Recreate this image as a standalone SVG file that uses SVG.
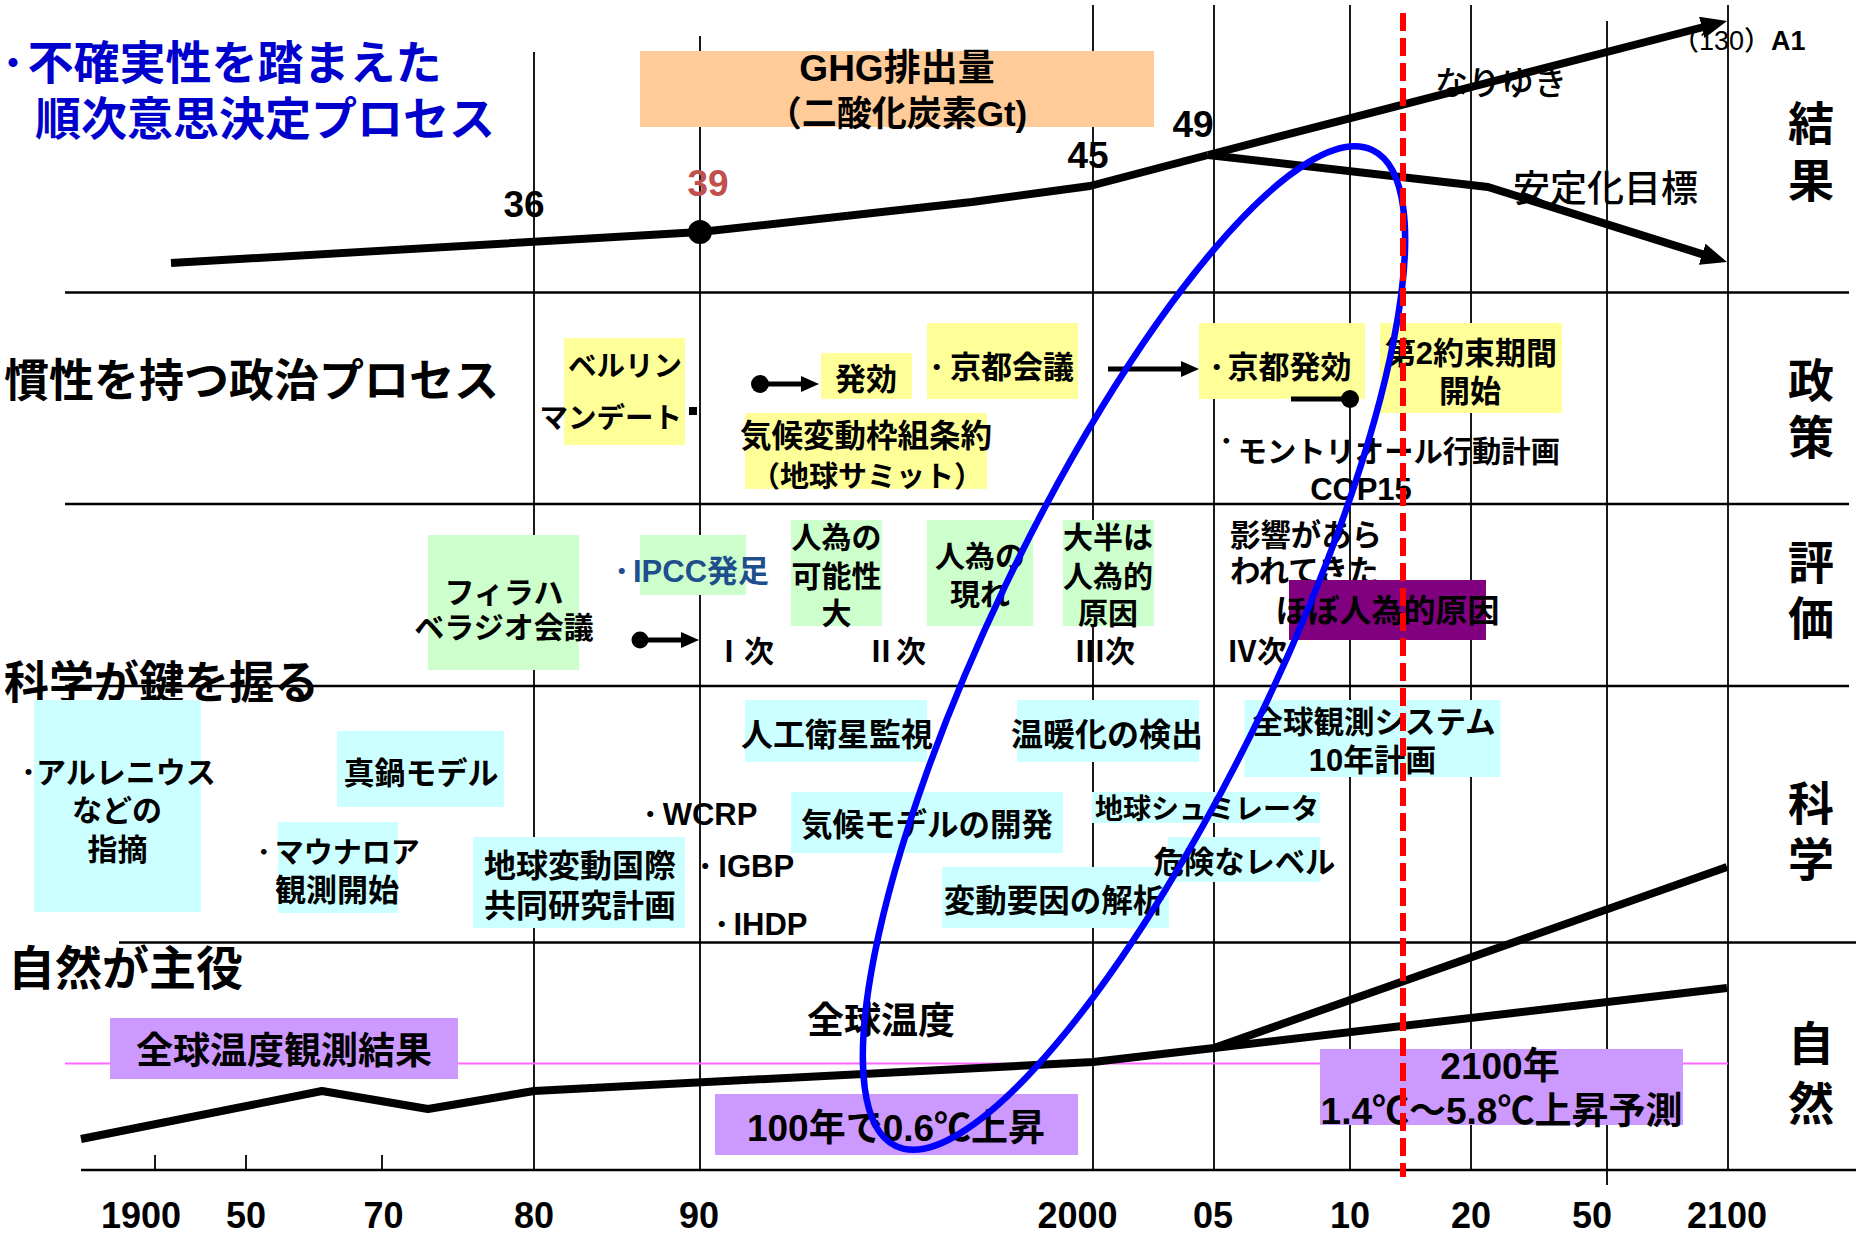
<svg xmlns="http://www.w3.org/2000/svg" width="1864" height="1240" viewBox="0 0 1864 1240">
<style>
.t{font-family:'Liberation Sans','Noto Sans CJK JP',sans-serif;font-weight:bold;fill:#000}
.n{font-weight:500}
.m{text-anchor:middle}
.e{text-anchor:end}
.y{fill:#FFFF99}.g{fill:#CCFFCC}.c{fill:#CCFFFF}.p{fill:#CC99FF}.o{fill:#FFCC99}
.gl{stroke:#000;stroke-width:1.8}
.rl{stroke:#000;stroke-width:2.6}
.thick{fill:none;stroke:#000;stroke-width:8;stroke-linejoin:round}
.sm{fill:none;stroke:#000;stroke-width:5}
</style>
<defs>
<marker id="bigArrow" markerUnits="userSpaceOnUse" markerWidth="26" markerHeight="22" refX="4" refY="11" orient="auto"><path d="M0,0 L26,11 L0,22 z" fill="#000"/></marker>
<marker id="smArrow" markerUnits="userSpaceOnUse" markerWidth="18" markerHeight="16" refX="4" refY="8" orient="auto"><path d="M0,0 L18,8 L0,16 z" fill="#000"/></marker>
</defs>
<rect width="1864" height="1240" fill="#fff"/>
<g id="grid">
<line class="gl" x1="534" y1="52" x2="534" y2="1170"/>
<line class="gl" x1="700" y1="36" x2="700" y2="1170"/>
<line class="gl" x1="1093" y1="5" x2="1093" y2="1170"/>
<line class="gl" x1="1214" y1="5" x2="1214" y2="1170"/>
<line class="gl" x1="1350" y1="5" x2="1350" y2="1170"/>
<line class="gl" x1="1471" y1="5" x2="1471" y2="1170"/>
<line class="gl" x1="1607" y1="21" x2="1607" y2="1185"/>
<line class="gl" x1="1728" y1="5" x2="1728" y2="1170"/>
<line class="rl" x1="65" y1="292.5" x2="1849" y2="292.5"/>
<line class="rl" x1="65" y1="504" x2="1849" y2="504"/>
<line class="rl" x1="65" y1="686" x2="1849" y2="686"/>
<line class="rl" x1="119" y1="942.5" x2="1856" y2="942.5"/>
<line class="rl" x1="81" y1="1170" x2="1856" y2="1170"/>
<line class="gl" x1="155" y1="1155" x2="155" y2="1170"/>
<line class="gl" x1="246" y1="1155" x2="246" y2="1170"/>
<line class="gl" x1="382" y1="1155" x2="382" y2="1170"/>
<line x1="65" y1="1063.5" x2="1728" y2="1063.5" stroke="#FF66FF" stroke-width="2"/>
</g>
<g id="title">
<text class="t" font-size="46" style="fill:#0000CC" x="1.5" y="79"><tspan>･</tspan><tspan dx="3">不確実性を踏まえた</tspan></text>
<text class="t" font-size="46" style="fill:#0000CC" x="35" y="135">順次意思決定プロセス</text>
</g>
<g id="row-labels">
<text class="t" font-size="45" x="4" y="397">慣性を持つ政治プロセス</text>
<text class="t" font-size="45" x="4" y="699">科学が鍵を握る</text>
<text class="t" font-size="47" x="8" y="985">自然が主役</text>
</g>
<g id="side-labels">
<text class="t m" font-size="46" x="1811" y="140">結</text><text class="t m" font-size="46" x="1811" y="197">果</text>
<text class="t m" font-size="46" x="1811" y="397">政</text><text class="t m" font-size="46" x="1811" y="454">策</text>
<text class="t m" font-size="46" x="1811" y="579">評</text><text class="t m" font-size="46" x="1811" y="635">価</text>
<text class="t m" font-size="46" x="1811" y="820">科</text><text class="t m" font-size="46" x="1811" y="876">学</text>
<text class="t m" font-size="46" x="1811" y="1060">自</text><text class="t m" font-size="46" x="1811" y="1120">然</text>
</g>
<g id="ghg-box">
<rect class="o" x="640" y="51" width="514" height="76"/>
<text class="t m" font-size="37" x="897" y="81">GHG排出量</text>
<text class="t m" font-size="35" x="897" y="126">（二酸化炭素Gt)</text>
</g>
<g id="ghg-values">
<text class="t m" font-size="37" x="524" y="217">36</text>
<text class="t m" font-size="37" x="708" y="196" style="fill:#C0504D">39</text>
<text class="t m" font-size="37" x="1088" y="168">45</text>
<text class="t m" font-size="37" x="1193" y="137">49</text>
<text class="t n" font-size="33" x="1435" y="95">なりゆき</text>
<text class="t n" font-size="37" x="1513" y="202">安定化目標</text>
<text class="t n" font-size="27" x="1672" y="50">（130）<tspan font-weight="bold">A1</tspan></text>
</g>
<g id="berlin">
<rect class="y" x="564" y="338" width="121" height="107"/>
<text class="t e" font-size="28.5" x="682" y="376">ベルリン</text>
<text class="t e" font-size="28.5" x="682" y="428">マンデート</text>
<rect x="689" y="407" width="8" height="8" fill="#000"/>
</g>
<g id="hakko">
<rect class="y" x="821" y="353" width="91" height="46"/>
<text class="t m" font-size="31" x="866" y="390">発効</text>
</g>
<g id="kyoto-kaigi">
<rect class="y" x="927" y="323" width="151" height="76"/>
<text class="t" font-size="31" x="929" y="378"><tspan>･</tspan><tspan dx="5.5">京都会議</tspan></text>
</g>
<g id="kyoto-hakko">
<rect class="y" x="1199" y="323" width="166" height="76"/>
<text class="t" font-size="31" x="1209" y="378"><tspan>･</tspan><tspan dx="3">京都発効</tspan></text>
</g>
<g id="dai2">
<rect class="y" x="1380" y="323" width="182" height="90"/>
<text class="t m" font-size="31" x="1471" y="364">第2約束期間</text>
<text class="t m" font-size="31" x="1470" y="402">開始</text>
</g>
<g id="unfccc">
<rect class="y" x="745" y="413" width="242" height="76"/>
<text class="t m" font-size="31.5" x="866" y="447">気候変動枠組条約</text>
<text class="t m" font-size="29" x="867" y="487">（地球サミット）</text>
</g>
<g id="montreal">
<text class="t" font-size="29.3" x="1219" y="462"><tspan dy="-10">･</tspan><tspan dx="4" dy="10">モントリオール行動計画</tspan></text>
</g>
<g id="cop15">
<text class="t m" font-size="31" x="1361" y="500">COP15</text>
</g>
<g id="villach">
<rect class="g" x="428" y="535" width="151" height="135"/>
<text class="t m" font-size="30" x="504" y="603">フィラハ</text>
<text class="t m" font-size="30" x="504" y="638">ベラジオ会議</text>
</g>
<g id="ipcc">
<rect class="g" x="640" y="535" width="106" height="60"/>
<text class="t" font-size="31" x="614" y="582" style="fill:#1F4E8C"><tspan>･</tspan><tspan dx="3.5">IPCC発足</tspan></text>
</g>
<g id="ar-labels">
<text class="t" font-size="30" x="714" y="662">Ⅰ次</text>
<text class="t" font-size="30" x="866" y="662">Ⅱ次</text>
<text class="t" font-size="30" x="1075" y="662">Ⅲ次</text>
<text class="t" font-size="30" x="1227" y="662">Ⅳ次</text>
</g>
<g id="ar1">
<rect class="g" x="791" y="520" width="91" height="106"/>
<text class="t m" font-size="30" x="836.5" y="548">人為の</text>
<text class="t m" font-size="30" x="836.5" y="587">可能性</text>
<text class="t m" font-size="30" x="836.5" y="624">大</text>
</g>
<g id="ar2">
<rect class="g" x="927" y="520" width="106" height="106"/>
<text class="t m" font-size="30" x="980" y="567">人為の</text>
<text class="t m" font-size="30" x="980" y="605">現れ</text>
</g>
<g id="ar3">
<rect class="g" x="1063" y="520" width="91" height="106"/>
<text class="t m" font-size="30" x="1108" y="548">大半は</text>
<text class="t m" font-size="30" x="1108" y="587">人為的</text>
<text class="t m" font-size="30" x="1108" y="624">原因</text>
</g>
<g id="ar4">
<text class="t" font-size="30.4" x="1230" y="546">影響があら</text>
<text class="t" font-size="30.4" x="1230" y="582">われてきた</text>
<rect x="1289" y="580" width="197" height="60" fill="#800080"/>
<text class="t m" font-size="32" x="1387.5" y="622">ほぼ人為的原因</text>
</g>
<g id="arrhenius">
<rect class="c" x="34" y="700" width="167" height="212"/>
<text class="t" font-size="30" x="21" y="783"><tspan>･</tspan><tspan>アルレニウス</tspan></text>
<text class="t m" font-size="30" x="117" y="821">などの</text>
<text class="t m" font-size="30" x="117.5" y="860">指摘</text>
</g>
<g id="manabe">
<rect class="c" x="337" y="731" width="167" height="76"/>
<text class="t m" font-size="31" x="421" y="784">真鍋モデル</text>
</g>
<g id="maunaloa">
<rect class="c" x="278" y="822" width="120" height="91"/>
<text class="t" font-size="29" x="256.5" y="863"><tspan>･</tspan><tspan dx="3.7">マウナロア</tspan></text>
<text class="t" font-size="31" x="275" y="901">観測開始</text>
</g>
<g id="igbp-plan">
<rect class="c" x="473" y="837" width="212" height="91"/>
<text class="t m" font-size="32" x="580" y="877">地球変動国際</text>
<text class="t m" font-size="32" x="580" y="917">共同研究計画</text>
</g>
<g id="programs">
<text class="t" font-size="31" x="642.5" y="825"><tspan>･</tspan><tspan dx="4.7">WCRP</tspan></text>
<text class="t" font-size="31" x="697.5" y="877"><tspan>･</tspan><tspan dx="5.3">IGBP</tspan></text>
<text class="t" font-size="31" x="714" y="935"><tspan>･</tspan><tspan dx="3.9">IHDP</tspan></text>
</g>
<g id="satellite">
<rect class="c" x="745" y="700" width="182" height="62"/>
<text class="t m" font-size="32" x="837" y="746">人工衛星監視</text>
</g>
<g id="detection">
<rect class="c" x="1017" y="700" width="182" height="62"/>
<text class="t m" font-size="32" x="1107" y="746">温暖化の検出</text>
</g>
<g id="climate-model">
<rect class="c" x="791" y="792" width="272" height="61"/>
<text class="t m" font-size="31.5" x="927" y="836">気候モデルの開発</text>
</g>
<g id="attribution">
<rect class="c" x="942" y="867" width="227" height="61"/>
<text class="t m" font-size="31.5" x="1054" y="912">変動要因の解析</text>
</g>
<g id="earth-simulator">
<rect class="c" x="1092" y="792" width="228" height="31"/>
<text class="t m" font-size="28" x="1207" y="819">地球シュミレータ</text>
</g>
<g id="danger">
<rect class="c" x="1168" y="837" width="152" height="45"/>
<text class="t m" font-size="30.3" x="1244.5" y="873">危険なレベル</text>
</g>
<g id="geoss">
<rect class="c" x="1244.5" y="700" width="256" height="77"/>
<text class="t m" font-size="30.5" x="1374" y="733">全球観測システム</text>
<text class="t m" font-size="31" x="1372.5" y="771">10年計画</text>
</g>
<g id="obs-result">
<rect class="p" x="110" y="1018" width="348" height="61"/>
<text class="t m" font-size="37" x="284" y="1064">全球温度観測結果</text>
</g>
<g id="global-temp">
<text class="t m" font-size="37" x="881" y="1034">全球温度</text>
</g>
<g id="rise">
<rect class="p" x="715" y="1094" width="363" height="61"/>
<text class="t m" font-size="37" x="896" y="1141">100年で0.6℃上昇</text>
</g>
<g id="forecast">
<rect class="p" x="1320" y="1049" width="363" height="76"/>
<text class="t m" font-size="37" x="1500" y="1079">2100年</text>
<text class="t m" font-size="37" x="1501.5" y="1124">1.4℃～5.8℃上昇予測</text>
</g>
<g id="axis-labels">
<text class="t m" font-size="36" x="141" y="1228">1900</text>
<text class="t m" font-size="36" x="246" y="1228">50</text>
<text class="t m" font-size="36" x="383.5" y="1228">70</text>
<text class="t m" font-size="36" x="534" y="1228">80</text>
<text class="t m" font-size="36" x="699" y="1228">90</text>
<text class="t m" font-size="36" x="1077.5" y="1228">2000</text>
<text class="t m" font-size="36" x="1213" y="1228">05</text>
<text class="t m" font-size="36" x="1350" y="1228">10</text>
<text class="t m" font-size="36" x="1471" y="1228">20</text>
<text class="t m" font-size="36" x="1592" y="1228">50</text>
<text class="t m" font-size="36" x="1727" y="1228">2100</text>
</g>
<g id="connectors">
<polyline class="thick" points="171,263 700,232 972,202 1090,186 1208,155"/>
<line class="thick" x1="1208" y1="155" x2="1705.7" y2="26.5" marker-end="url(#bigArrow)"/>
<polyline class="thick" points="1208,155 1488,187 1706,255.4" marker-end="url(#bigArrow)"/>
<circle cx="700" cy="232" r="12" fill="#000"/>
<polyline class="thick" points="81,1139 322,1091 428,1109 534,1091 1093,1062 1214,1048 1727,867"/>
<line class="thick" x1="1214" y1="1048" x2="1727" y2="988"/>
<circle cx="760" cy="384" r="9" fill="#000"/>
<line class="sm" x1="760" y1="384" x2="805" y2="384" marker-end="url(#smArrow)"/>
<line class="sm" x1="1108" y1="369" x2="1185" y2="369" marker-end="url(#smArrow)"/>
<line class="sm" x1="1291" y1="399" x2="1350" y2="399"/>
<circle cx="1350" cy="399" r="9" fill="#000"/>
<circle cx="640" cy="640" r="8.5" fill="#000"/>
<line class="sm" x1="640" y1="640" x2="685" y2="640" marker-end="url(#smArrow)"/>
<ellipse cx="1134" cy="648" rx="552" ry="143" transform="rotate(-64.4 1134 648)" fill="none" stroke="#0000FF" stroke-width="6.5"/>
<line x1="1403" y1="13" x2="1403" y2="1177" stroke="#FF0000" stroke-width="6" stroke-dasharray="18 7"/>
</g>
</svg>
